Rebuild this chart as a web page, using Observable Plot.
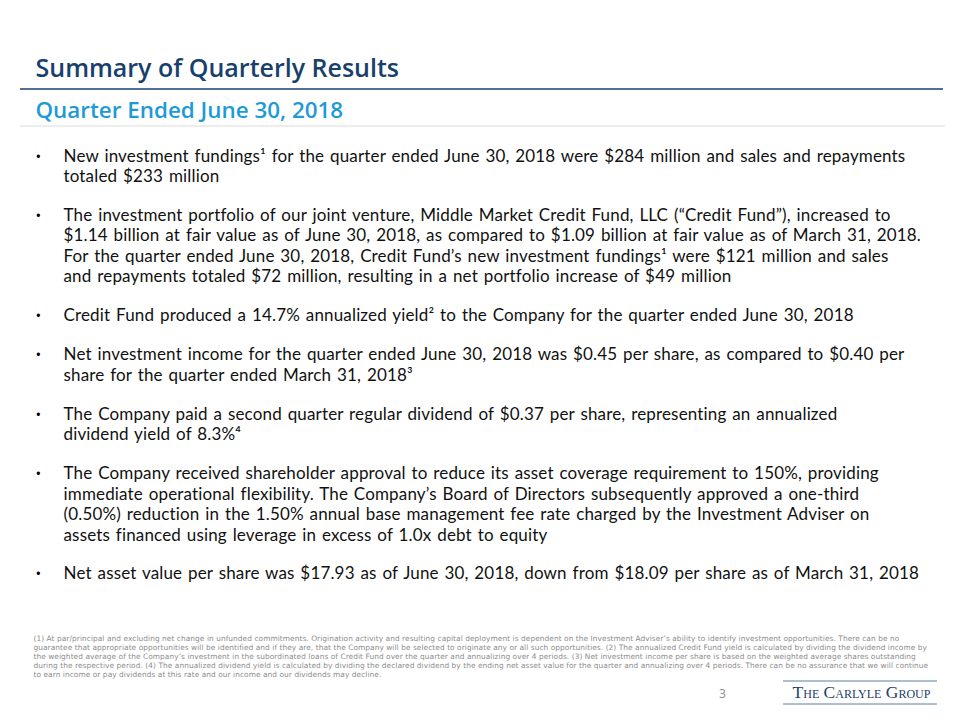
<!DOCTYPE html>
<html>
<head>
<meta charset="utf-8">
<script src="https://cdn.jsdelivr.net/npm/d3@7"></script>
<script src="https://cdn.jsdelivr.net/npm/@observablehq/plot@0.6"></script>
<style>
  html, body { margin: 0; padding: 0; background: #ffffff; }
  #chart svg { display: block; }
  #chart g[font-family*="DejaVu Sans"] text { letter-spacing: 0.07px; }
  #chart g[font-family*="Lato"] text { letter-spacing: 0.16px; word-spacing: 1.3px; }
</style>
</head>
<body>
<div id="chart"></div>
<script>
// ---- Content ----
const title = "Summary of Quarterly Results";
const subtitle = "Quarter Ended June 30, 2018";

const bullets = [
  ["New investment fundings¹ for the quarter ended June 30, 2018 were $284 million and sales and repayments",
   "totaled $233 million"],
  ["The investment portfolio of our joint venture, Middle Market Credit Fund, LLC (“Credit Fund”), increased to",
   "$1.14 billion at fair value as of June 30, 2018, as compared to $1.09 billion at fair value as of March 31, 2018.",
   "For the quarter ended June 30, 2018, Credit Fund’s new investment fundings¹ were $121 million and sales",
   "and repayments totaled $72 million, resulting in a net portfolio increase of $49 million"],
  ["Credit Fund produced a 14.7% annualized yield² to the Company for the quarter ended June 30, 2018"],
  ["Net investment income for the quarter ended June 30, 2018 was $0.45 per share, as compared to $0.40 per",
   "share for the quarter ended March 31, 2018³"],
  ["The Company paid a second quarter regular dividend of $0.37 per share, representing an annualized",
   "dividend yield of 8.3%⁴"],
  ["The Company received shareholder approval to reduce its asset coverage requirement to 150%, providing",
   "immediate operational flexibility. The Company’s Board of Directors subsequently approved a one-third",
   "(0.50%) reduction in the 1.50% annual base management fee rate charged by the Investment Adviser on",
   "assets financed using leverage in excess of 1.0x debt to equity"],
  ["Net asset value per share was $17.93 as of June 30, 2018, down from $18.09 per share as of March 31, 2018"]
];

const footnotes = [
  "(1) At par/principal and excluding net change in unfunded commitments. Origination activity and resulting capital deployment is dependent on the Investment Adviser’s ability to identify investment opportunities. There can be no",
  "guarantee that appropriate opportunities will be identified and if they are, that the Company will be selected to originate any or all such opportunities. (2) The annualized Credit Fund yield is calculated by dividing the dividend income by",
  "the weighted average of the Company’s investment in the subordinated loans of Credit Fund over the quarter and annualizing over 4 periods. (3) Net investment income per share is based on the weighted average shares outstanding",
  "during the respective period. (4) The annualized dividend yield is calculated by dividing the declared dividend by the ending net asset value for the quarter and annualizing over 4 periods. There can be no assurance that we will continue",
  "to earn income or pay dividends at this rate and our income and our dividends may decline."
];

const pageNumber = "3";
const logoText = "The Carlyle Group";

// ---- Layout ----
const W = 960, H = 720;
const FONT = "'Open Sans', 'Noto Sans', sans-serif";
const BODY_FONT = "Lato, 'Open Sans', sans-serif";
const bodyTop = 161, lineH = 20.5, paraGap = 18.4;

const bodyLines = [];
const bulletMarks = [];
let li = 0;
bullets.forEach((para, pi) => {
  para.forEach((t, k) => {
    const y = bodyTop + li * lineH + pi * paraGap;
    bodyLines.push({text: t, y});
    if (k === 0) bulletMarks.push({text: "•", y});
    li++;
  });
});
const footLines = footnotes.map((t, i) => ({text: t, y: 640.5 + i * 8.9}));

const chart = Plot.plot({
  width: W, height: H,
  marginTop: 0, marginRight: 0, marginBottom: 0, marginLeft: 0,
  x: {domain: [0, W], range: [0, W], axis: null},
  y: {domain: [0, H], range: [0, H], axis: null},
  style: {fontFamily: FONT, background: "#ffffff"},
  marks: [
    // title rules
    Plot.ruleY([88.5], {x1: 20, x2: 943, stroke: "#17406d", strokeWidth: 1.5}),
    Plot.ruleY([125.5], {x1: 20, x2: 945, stroke: "#d9d9d9", strokeWidth: 1}),
    Plot.text([title], {x: 35, y: 76, text: d => d, textAnchor: "start", lineAnchor: "bottom",
      fontSize: 25, fontWeight: 600, fill: "#17406d"}),
    Plot.text([subtitle], {x: 35, y: 117.5, text: d => d, textAnchor: "start", lineAnchor: "bottom",
      fontSize: 22.4, fontWeight: 600, fill: "#1e9ad6"}),
    // bullets
    Plot.text(bulletMarks, {x: 35, y: "y", text: "text", textAnchor: "start", lineAnchor: "bottom",
      fontSize: 15, fontFamily: FONT, fill: "#000000"}),
    Plot.text(bodyLines, {x: 63, y: "y", text: "text", textAnchor: "start", lineAnchor: "bottom",
      fontSize: 17, fontFamily: BODY_FONT, fill: "#111111"}),
    // footnotes
    Plot.text(footLines, {x: 33, y: "y", text: "text", textAnchor: "start", lineAnchor: "bottom",
      fontSize: 7.4, fontFamily: "'DejaVu Sans', sans-serif", fill: "#8c8c8c"}),
    // page number
    Plot.text([pageNumber], {x: 722, y: 697, text: d => d, textAnchor: "middle", lineAnchor: "bottom",
      fontSize: 12, fill: "#8c8c8c"}),
    // logo
    Plot.ruleY([680.5], {x1: 783, x2: 937, stroke: "#5f7fa3", strokeWidth: 1}),
    Plot.ruleY([703.5], {x1: 783, x2: 937, stroke: "#5f7fa3", strokeWidth: 1}),
    Plot.text([logoText], {x: 861, y: 697.5, text: d => d, textAnchor: "middle", lineAnchor: "bottom",
      fontSize: 17.5, fontFamily: "'Liberation Serif', 'DejaVu Serif', serif", fontVariant: "small-caps",
      fill: "#1f3d6b"})
  ]
});
document.getElementById("chart").appendChild(chart);
</script>
</body>
</html>
